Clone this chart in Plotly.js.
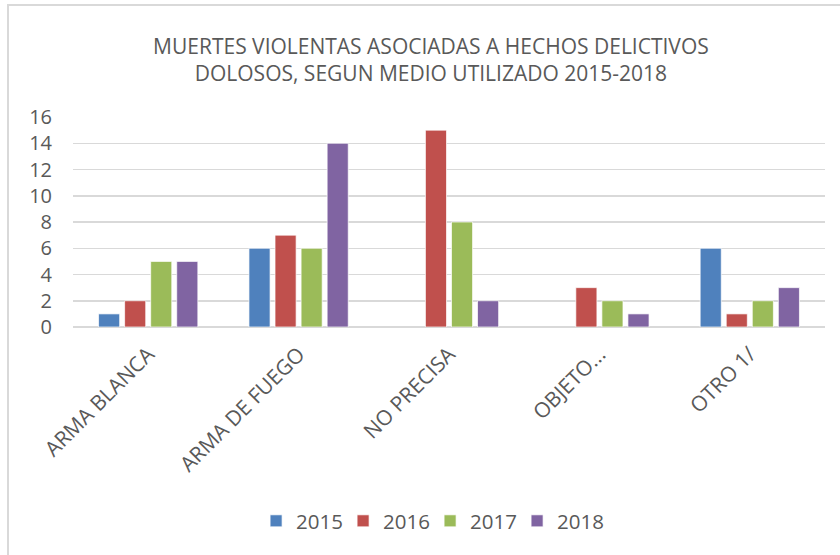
<!DOCTYPE html>
<html>
<head>
<meta charset="utf-8">
<script src="https://cdn.plot.ly/plotly-3.0.1.min.js"></script>
<style>
  html, body { margin: 0; padding: 0; background: #fff; }
  #wrap { position: relative; width: 840px; height: 555px; overflow: hidden; }
  #chart { width: 840px; height: 555px; }
  #frame { position: absolute; left: 7px; top: 4px; width: 900px; height: 700px;
           border: 2px solid #d9d9d9; pointer-events: none; box-sizing: border-box; }
</style>
</head>
<body>
<div id="wrap">
  <div id="chart"></div>
  <div id="frame"></div>
</div>
<script>
const categories = ["ARMA BLANCA", "ARMA DE FUEGO", "NO PRECISA", "OBJETO...", "OTRO 1/"];
const years = ["2015", "2016", "2017", "2018"];
const v2015 = [1, 6, null, null, 6];
const v2016 = [2, 7, 15, 3, 1];
const v2017 = [5, 6, 8, 2, 2];
const v2018 = [5, 14, 2, 1, 3];
const colors = ["#4F81BD", "#C0504D", "#9BBB59", "#8064A2"];
const seriesValues = [v2015, v2016, v2017, v2018];

const FONT = "Open Sans, Lato, sans-serif";
const GRAY = "#595959";

const traces = years.map((y, i) => ({
  type: "bar",
  name: y,
  x: categories,
  y: seriesValues[i],
  marker: { color: colors[i], line: { color: "rgba(255,255,255,0.7)", width: 1 } },
  hoverinfo: "x+y+name"
}));

const layout = {
  width: 840,
  height: 555,
  paper_bgcolor: "#ffffff",
  plot_bgcolor: "#ffffff",
  margin: { l: 73, r: 15, t: 117, b: 228 },
  font: { family: FONT, color: GRAY },
  title: {
    text: "MUERTES VIOLENTAS ASOCIADAS A HECHOS DELICTIVOS<br>DOLOSOS, SEGUN MEDIO UTILIZADO 2015-2018",
    font: { family: FONT, size: 21, color: GRAY },
    x: 0.513, xref: "container", xanchor: "center",
    y: 1 - 54 / 555, yref: "container", yanchor: "middle"
  },
  barmode: "group",
  bargap: 0.307,
  bargroupgap: 0.19,
  xaxis: {
    type: "category",
    tickangle: -45,
    tickfont: { family: FONT, size: 21, color: GRAY },
    showgrid: false,
    showline: false,
    ticks: "",
    ticklabelstandoff: 10
  },
  yaxis: {
    range: [0, 16],
    dtick: 2,
    tick0: 0,
    tickfont: { family: FONT, size: 20, color: GRAY },
    showgrid: true,
    gridcolor: "#d9d9d9",
    gridwidth: 1.5,
    zeroline: true,
    zerolinecolor: "#d9d9d9",
    zerolinewidth: 1.5,
    showline: false,
    ticks: "",
    ticklabelstandoff: 20
  },
  showlegend: true,
  legend: {
    orientation: "h",
    xref: "container", yref: "container",
    x: 0.512, xanchor: "center",
    y: 1 - 521 / 555, yanchor: "middle",
    font: { family: FONT, size: 20.5, color: GRAY },
    entrywidth: 42, entrywidthmode: "pixels",
    traceorder: "normal"
  }
};

Plotly.newPlot("chart", traces, layout, { displayModeBar: false, staticPlot: true });
</script>
</body>
</html>
